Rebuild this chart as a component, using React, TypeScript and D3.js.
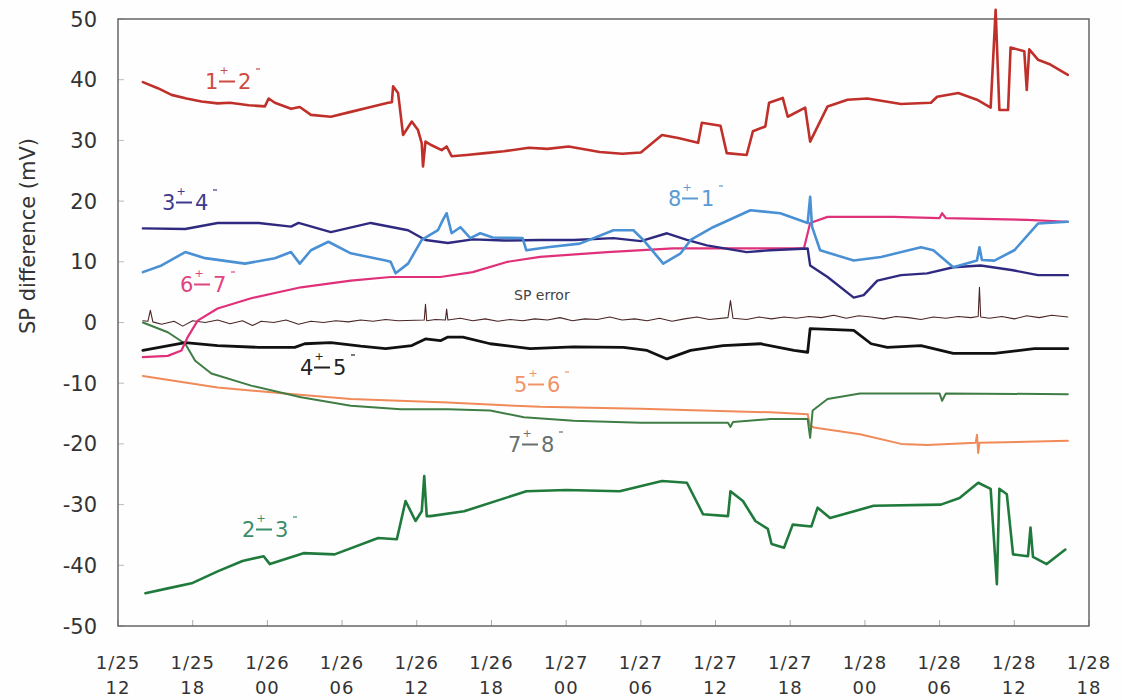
import * as d3 from "d3";

type Pt = [number, number];

// hours after 1/25 12:00, SP difference (mV)
const s12: Pt[] = [[2.0,39.6],[3.2,38.6],[4.3,37.5],[5.5,36.9],[6.7,36.4],[8,36.1],[9,36.2],[10.5,35.8],[11.8,35.6],[12.1,36.9],[12.6,36.2],[13.9,35.2],[14.6,35.5],[15.5,34.2],[17.1,33.9],[18.7,34.7],[20.3,35.5],[21.7,36.2],[22.0,36.3],[22.1,38.9],[22.5,37.8],[22.9,30.9],[23.6,33.1],[24.1,31.7],[24.4,29.5],[24.5,25.7],[24.7,29.8],[25.2,29.2],[26.0,28.4],[26.4,29.0],[26.8,27.4],[28.0,27.6],[29.5,27.9],[31,28.2],[33,28.8],[34.5,28.6],[36.2,29.0],[38.7,28.1],[40.5,27.8],[42,28.0],[43.7,30.9],[45,30.4],[46.6,29.6],[46.9,32.9],[48.4,32.4],[48.9,27.9],[50.5,27.6],[51.0,31.5],[52.0,32.3],[52.3,36.2],[53.4,37.0],[53.8,33.9],[55.2,35.4],[55.6,29.8],[57.0,35.6],[58.6,36.7],[60.2,36.9],[62.9,36.0],[65.3,36.2],[65.8,37.2],[67.5,37.8],[69.0,36.7],[70.1,35.4],[70.5,51.5],[70.8,35.0],[71.5,35.0],[71.7,45.3],[72.8,44.7],[73.0,38.3],[73.2,45.0],[73.9,43.3],[74.9,42.5],[76.3,40.8]];
const s34: Pt[] = [[2,15.5],[5.4,15.4],[8,16.4],[11.3,16.4],[13.9,15.8],[14.5,16.4],[17.1,14.9],[20.3,16.4],[23.3,15.2],[24.7,13.6],[26.5,13.1],[28.5,13.7],[31,13.5],[33.9,13.6],[36.6,13.6],[39.8,13.9],[42,13.4],[44.1,14.7],[45.7,13.6],[47.3,12.7],[50.5,11.6],[52.4,11.9],[55.4,12.2],[55.6,9.4],[57,7.5],[59.1,4.1],[59.9,4.5],[61,6.9],[62.9,7.8],[65,8.1],[67.1,9.1],[69.3,9.4],[71.9,8.6],[73.9,7.8],[76.3,7.8]];
const s81: Pt[] = [[2,8.3],[3.5,9.4],[5.4,11.6],[7,10.6],[10.2,9.7],[12.6,10.6],[13.9,11.6],[14.6,9.7],[15.5,11.9],[16.9,13.3],[18.7,11.4],[21.5,10.2],[21.9,10.0],[22.3,8.1],[23.3,9.7],[24.4,13.6],[25.7,15.2],[26.1,16.9],[26.4,18.0],[26.8,14.7],[27.5,15.7],[28.3,13.9],[29.1,14.7],[30.1,14.0],[32.5,13.9],[32.8,11.9],[34.5,12.4],[37.1,13.0],[39.8,15.2],[41.4,15.2],[42.2,13.6],[43.8,9.7],[45.2,11.4],[46,13.6],[47.8,15.7],[50.8,18.5],[53.2,18.0],[55.4,16.4],[55.6,20.7],[55.75,15.8],[56.4,11.9],[59.1,10.2],[61.3,10.8],[64.5,12.4],[65.5,11.9],[67.1,9.1],[69,10.2],[69.2,12.4],[69.4,10.3],[70.4,10.2],[72,11.9],[73.9,16.3],[76.3,16.6]];
const s67: Pt[] = [[2,-5.7],[4,-5.5],[5.1,-4.6],[5.6,-2.4],[6.4,0.3],[8,2.3],[10.7,4.0],[14.7,5.8],[18.7,6.9],[21.9,7.5],[25.9,7.5],[28.5,8.3],[31.3,10],[33.9,10.8],[39.3,11.6],[44.6,12.2],[50,12.2],[55.1,12.2],[55.6,16.4],[57,17.4],[62.3,17.4],[66.0,17.2],[66.2,18.0],[66.5,17.2],[73,16.9],[76.3,16.6]];
const sErr: Pt[] = [[2.0,0.3],[2.4,0.2],[2.6,2.0],[2.8,0.1],[3.5,-0.3],[4.5,0.2],[5.2,-0.6],[6.0,0.3],[7.0,0.0],[8.0,0.4],[9.0,-0.2],[10.0,0.3],[10.8,-0.5],[11.5,0.2],[12.5,0.0],[13.5,0.4],[14.5,-0.3],[15.5,0.2],[16.5,0.0],[17.5,0.3],[18.5,0.1],[19.5,0.4],[20.5,0.2],[21.5,0.5],[22.5,0.3],[24.6,0.4],[24.7,3.0],[24.8,0.3],[25.5,0.5],[26.3,0.4],[26.4,2.2],[26.5,0.4],[27.5,0.7],[28.5,0.3],[29.5,0.6],[30.5,0.2],[31.5,0.5],[32.5,0.3],[33.5,0.6],[34.5,0.4],[35.5,0.8],[36.5,0.3],[37.5,0.6],[38.5,0.5],[39.5,0.9],[40.5,0.4],[41.5,0.6],[42.5,0.3],[43.5,0.7],[44.5,0.2],[45.5,0.6],[46.5,0.9],[47.5,0.5],[49.0,0.8],[49.2,3.6],[49.4,0.7],[50.5,0.5],[51.5,0.9],[52.5,0.6],[53.5,0.9],[54.5,0.7],[55.5,1.0],[56.5,0.8],[57.5,1.2],[58.5,0.7],[59.5,1.1],[60.5,0.9],[61.5,0.6],[62.5,1.0],[63.5,0.8],[64.5,0.5],[65.5,0.9],[66.5,0.7],[67.5,1.0],[68.5,0.8],[69.1,1.0],[69.2,5.8],[69.3,0.9],[70.0,0.7],[71.0,1.0],[72.0,0.6],[73.0,1.1],[74.0,0.8],[75.0,1.2],[76.3,0.9]];
const s45: Pt[] = [[2,-4.6],[5.4,-3.3],[8,-3.8],[11.3,-4.1],[14.2,-4.1],[15,-3.5],[17.1,-3.3],[19.5,-3.9],[21.5,-4.3],[23.6,-3.8],[24.7,-2.7],[25.9,-3.0],[26.5,-2.4],[27.7,-2.4],[29.9,-3.5],[33.1,-4.3],[36.6,-4.0],[40.6,-4.1],[42.5,-4.6],[44.1,-6.0],[46,-4.6],[48.6,-3.8],[51.6,-3.5],[54.3,-4.6],[55.4,-4.9],[55.6,-1.0],[59.1,-1.3],[60.5,-3.5],[61.8,-4.1],[64.5,-3.8],[67.1,-5.1],[70.4,-5.1],[73.6,-4.3],[76.3,-4.3]];
const s56: Pt[] = [[2,-8.8],[8,-10.7],[13.4,-11.7],[18.7,-12.6],[26.5,-13.2],[33.9,-13.9],[42,-14.2],[52.4,-14.8],[55.4,-15.1],[55.6,-17.0],[55.9,-17.3],[59.6,-18.4],[62.9,-20.0],[65,-20.2],[68.9,-19.8],[69.0,-18.5],[69.1,-21.5],[69.2,-19.8],[76.3,-19.5]];
const s78: Pt[] = [[2,0.0],[4,-1.6],[5.4,-3.5],[6.2,-6.3],[7.5,-8.4],[10.7,-10.4],[14.7,-12.3],[18.7,-13.7],[22.7,-14.3],[26.5,-14.3],[29.9,-14.5],[32.6,-15.6],[36.6,-16.2],[42,-16.5],[49.0,-16.5],[49.2,-17.2],[49.4,-16.4],[52.4,-15.9],[55.4,-15.9],[55.6,-19.0],[55.8,-14.5],[57,-12.6],[59.6,-11.7],[66.0,-11.7],[66.2,-12.9],[66.5,-11.7],[76.3,-11.8]];
const s23: Pt[] = [[2.2,-44.6],[4,-43.8],[6.0,-42.9],[8,-41],[10.0,-39.3],[11.7,-38.5],[12.2,-39.8],[14.9,-38.0],[17.4,-38.2],[20.9,-35.5],[22.4,-35.7],[23.1,-29.4],[23.9,-32.7],[24.4,-31.1],[24.6,-25.3],[24.8,-31.9],[25.1,-31.9],[27.8,-31.1],[32.8,-27.8],[36,-27.6],[40.3,-27.8],[43.7,-26.1],[45.7,-26.4],[47,-31.6],[49,-31.9],[49.2,-27.8],[50.2,-29.4],[51.2,-32.7],[52.2,-34.0],[52.5,-36.5],[53.5,-37.1],[54.2,-33.3],[55.7,-33.6],[56.2,-30.5],[57.2,-32.2],[60.7,-30.2],[66.1,-30.0],[67.6,-28.9],[69.1,-26.4],[70.1,-27.4],[70.6,-43.1],[70.8,-27.4],[71.4,-28.3],[71.9,-38.2],[73.1,-38.5],[73.3,-33.8],[73.5,-38.6],[74.6,-39.8],[76.1,-37.4]];

const tickDays = ["1/25","1/25","1/26","1/26","1/26","1/26","1/27","1/27","1/27","1/27","1/28","1/28","1/28","1/28"];
const tickHours = ["12","18","00","06","12","18","00","06","12","18","00","06","12","18"];
const yTicks = [50, 40, 30, 20, 10, 0, -10, -20, -30, -40, -50];

const series = [
  { data: s23, color: "#1f7a3c", w: 2.6 },
  { data: s56, color: "#f08a58", w: 2 },
  { data: s78, color: "#3f7d45", w: 2 },
  { data: s45, color: "#111111", w: 2.8 },
  { data: sErr, color: "#4a2626", w: 1.1 },
  { data: s67, color: "#e0307a", w: 2.2 },
  { data: s34, color: "#2f2a80", w: 2.4 },
  { data: s81, color: "#4a90d4", w: 2.6 },
  { data: s12, color: "#c0302a", w: 2.6 },
];

const labels = [
  { a: "1", b: "2", x: 205, y: 89, color: "#d04a40" },
  { a: "3", b: "4", x: 162, y: 210, color: "#3d3a8e" },
  { a: "8", b: "1", x: 668, y: 206, color: "#5a9ad6" },
  { a: "6", b: "7", x: 180, y: 292, color: "#e0457f" },
  { a: "4", b: "5", x: 300, y: 375, color: "#222222" },
  { a: "5", b: "6", x: 514, y: 392, color: "#f09468" },
  { a: "7", b: "8", x: 508, y: 452, color: "#66716e" },
  { a: "2", b: "3", x: 242, y: 537, color: "#3d8c68" },
];

const FONT = "'DejaVu Sans', 'Noto Sans', sans-serif";

// "a+ – b-" with the plus sign sitting above the dash
function PairLabel({ a, b, x, y, color }: { a: string; b: string; x: number; y: number; color: string }) {
  return (
    <g fill={color} fontFamily={FONT}>
      <text x={x} y={y} fontSize={21}>{a}</text>
      <text x={x + 19} y={y - 15} fontSize={11} textAnchor="middle">+</text>
      <line x1={x + 14} x2={x + 30} y1={y - 7.5} y2={y - 7.5} stroke={color} strokeWidth={2} />
      <text x={x + 33} y={y} fontSize={21}>{b}</text>
      <line x1={x + 51} x2={x + 55} y1={y - 20} y2={y - 20} stroke={color} strokeWidth={1.2} />
    </g>
  );
}

export default function App() {
  const width = 1122;
  const height = 700;
  const x = d3.scaleLinear().domain([0, 78]).range([118, 1089]);
  const y = d3.scaleLinear().domain([-50, 50]).range([626, 19]);
  const line = d3
    .line<Pt>()
    .x((d) => x(d[0]))
    .y((d) => y(d[1]));

  return (
    <svg
      width={width}
      height={height}
      style={{ position: "absolute", left: 0, top: 0, background: "#fff" }}
      fontFamily={FONT}
    >
      <rect x={0} y={0} width={width} height={height} fill="#fefefe" />
      {yTicks.map((t) => (
        <g key={t}>
          <line x1={x(0)} x2={x(0) + 6} y1={y(t)} y2={y(t)} stroke="#bbb" strokeWidth={1} />
          <text x={97} y={y(t)} dy="0.36em" textAnchor="end" fontSize={21} fill="#333">
            {t}
          </text>
        </g>
      ))}
      {tickDays.map((d, i) => (
        <g key={i}>
          <line x1={x(i * 6)} x2={x(i * 6)} y1={y(-50)} y2={y(-50) - 6} stroke="#aaa" strokeWidth={1} />
          <text x={x(i * 6)} y={669} textAnchor="middle" fontSize={18} fill="#333" letterSpacing={1}>
            {d}
          </text>
          <text x={x(i * 6)} y={694} textAnchor="middle" fontSize={18} fill="#333" letterSpacing={1}>
            {tickHours[i]}
          </text>
        </g>
      ))}
      <rect
        x={x(0)}
        y={y(50)}
        width={x(78) - x(0)}
        height={y(-50) - y(50)}
        fill="none"
        stroke="#666"
        strokeWidth={1.5}
      />
      <text transform="translate(35,236) rotate(-90)" textAnchor="middle" fontSize={21} fill="#333">
        SP difference (mV)
      </text>
      {series.map((s, i) => (
        <path
          key={i}
          d={line(s.data) ?? ""}
          fill="none"
          stroke={s.color}
          strokeWidth={s.w}
          strokeLinejoin="round"
          strokeLinecap="round"
        />
      ))}
      {labels.map((l) => (
        <PairLabel key={l.a + l.b} {...l} />
      ))}
      <text x={514} y={300} fontSize={14} fill="#444">
        SP error
      </text>
    </svg>
  );
}
